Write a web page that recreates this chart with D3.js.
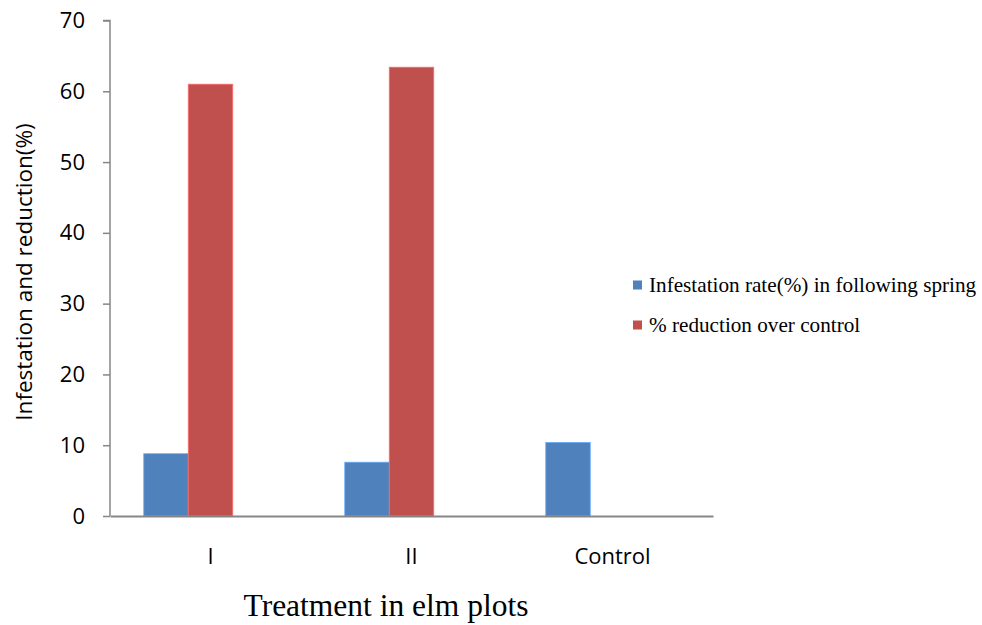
<!DOCTYPE html>
<html><head><meta charset="utf-8">
<script src="https://cdn.jsdelivr.net/npm/d3@7"></script>
<style>body{margin:0;background:#fff}</style>
</head><body>
<svg id="c" width="982" height="625"></svg>
<script>
const categories = ["I", "II", "Control"];
const seriesNames = ["Infestation rate(%) in following spring", "% reduction over control", ""];
const infestation = [8.8, 7.6, 10.4];
const reduction = [61.0, 63.4, null];
const empty = [null, null, null];
const yTicks = [0, 10, 20, 30, 40, 50, 60, 70];
const colors = ["#4F81BD", "#C0504D", "#9BBB59"];

(function () {
const svg = d3.select("#c");
const pLeft = 110, pRight = 713, pTop = 20.5, pBottom = 516;
const x = d3.scaleBand().domain(categories).range([pLeft, pRight]).paddingInner(0.336).paddingOuter(0.168);
const series = [infestation, reduction, empty];
const xs = d3.scaleBand().domain([0, 1, 2]).range([0, x.bandwidth()]);
const y = d3.scaleLinear().domain([0, 70]).range([pBottom, pTop]);

series.forEach((vals, si) => {
  svg.append("g").selectAll("rect").data(vals.map((v, i) => ({v, c: categories[i]})).filter(d => d.v != null))
    .join("rect")
    .attr("x", d => x(d.c) + xs(si))
    .attr("width", xs.bandwidth())
    .attr("y", d => y(d.v))
    .attr("height", d => y(0) - y(d.v))
    .attr("fill", colors[si])
    .attr("stroke", d3.color(colors[si]).brighter(0.8))
    .attr("stroke-width", 0.8);
});

const ya = svg.append("g").attr("transform", `translate(${pLeft},0)`)
  .call(d3.axisLeft(y).tickValues(yTicks).tickSize(7).tickPadding(18).tickFormat(d3.format("d")));
ya.select(".domain").attr("stroke", "#868686").attr("stroke-width", 1.5).attr("d", `M-7,${pTop}H0V${pBottom}`);
ya.selectAll(".tick line").attr("stroke", "#868686").attr("stroke-width", 1.5);
ya.selectAll(".tick text").attr("font-family", "Open Sans, sans-serif").attr("font-size", 22).attr("fill", "#000");

const xa = svg.append("g").attr("transform", `translate(0,${pBottom})`)
  .call(d3.axisBottom(x).tickSize(0).tickPadding(32));
xa.select(".domain").attr("stroke", "#868686").attr("stroke-width", 2);
xa.selectAll(".tick text").attr("font-family", "Open Sans, sans-serif").attr("font-size", 22).attr("fill", "#000");

svg.append("text").attr("transform", "translate(32,272) rotate(-90)")
  .attr("text-anchor", "middle").attr("font-family", "Open Sans, sans-serif").attr("font-size", 22.5)
  .text("Infestation and reduction(%)");
svg.append("text").attr("x", 386).attr("y", 616).attr("text-anchor", "middle")
  .attr("font-family", "Liberation Serif, Times New Roman, serif").attr("font-size", 31.5)
  .text("Treatment in elm plots");

const lg = svg.append("g");
[0, 1].forEach(i => {
  const yy = 285 + i * 40;
  lg.append("rect").attr("x", 633).attr("y", yy - 4.5).attr("width", 9).attr("height", 9).attr("fill", colors[i]);
  lg.append("text").attr("x", 649).attr("y", yy + 7).attr("font-family", "Liberation Serif, Times New Roman, serif")
    .attr("font-size", 21.2).text(seriesNames[i]);
});
})();
</script>
</body></html>
